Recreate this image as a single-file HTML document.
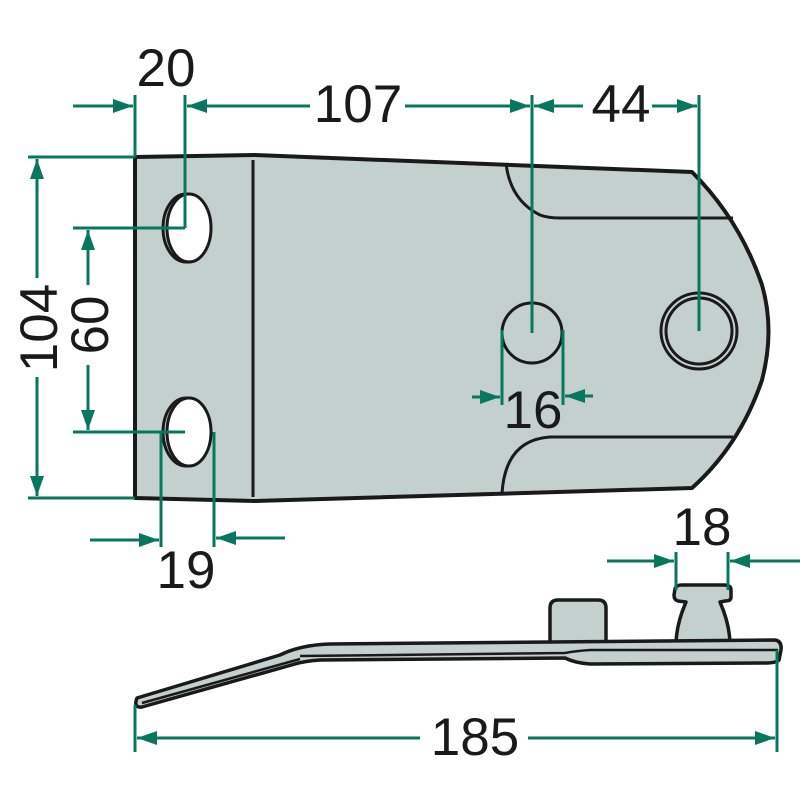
<!DOCTYPE html>
<html><head><meta charset="utf-8"><style>
html,body{margin:0;padding:0;background:#fff;}
svg{display:block;}
text{font-family:"Liberation Sans",sans-serif;font-size:53px;fill:#1a1a1a;}
</style></head><body>
<svg width="800" height="800" viewBox="0 0 800 800" xmlns="http://www.w3.org/2000/svg">
<defs>
<marker id="a" viewBox="-20 -7 20 14" refX="0" refY="0" markerWidth="20" markerHeight="14" markerUnits="userSpaceOnUse" orient="auto">
<path d="M-20,-7 L0,0 L-20,7 Z" fill="#07785f"/>
</marker>
</defs>
<!-- plate -->
<path d="M135,157 L255,155 L692,172 Q740,220 762,285 Q775,330 762,380 Q740,445 692,488 L255,501 L135,498 Z" fill="#c4d0cd" stroke="#1a1a1a" stroke-width="4" stroke-linejoin="round"/>
<line x1="253" y1="160" x2="253" y2="497" stroke="#1a1a1a" stroke-width="3"/>
<path d="M506,163 Q510,200 540,215 Q548,218 560,218 L733,218" fill="none" stroke="#1a1a1a" stroke-width="3"/>
<path d="M733,437 L550,437 Q505,440 502,494" fill="none" stroke="#1a1a1a" stroke-width="3"/>
<!-- holes -->
<ellipse cx="186" cy="228" rx="23" ry="34" fill="none" stroke="#1a1a1a" stroke-width="3"/>
<ellipse cx="189" cy="228" rx="22" ry="34" fill="#fff" stroke="#1a1a1a" stroke-width="3"/>
<ellipse cx="186" cy="432" rx="23" ry="34" fill="none" stroke="#1a1a1a" stroke-width="3"/>
<ellipse cx="189" cy="432" rx="22" ry="34" fill="#fff" stroke="#1a1a1a" stroke-width="3"/>
<circle cx="532" cy="333" r="30" fill="#c4d0cd" stroke="#1a1a1a" stroke-width="3"/>
<circle cx="699" cy="331" r="38" fill="none" stroke="#1a1a1a" stroke-width="3"/>
<circle cx="699" cy="331" r="33" fill="#c4d0cd" stroke="#1a1a1a" stroke-width="3"/>
<!-- side view -->
<path d="M550,646 L550,608 Q550,600 558,600 L598,600 Q606,600 606,608 L606,646 Z" fill="#c4d0cd" stroke="#1a1a1a" stroke-width="3.5"/>
<path d="M676,645 Q676,625 686,602 L678,601 Q674,600 674,595 L675,589 Q676,585 682,585 L724,585 Q731,585 731,590 L731,597 Q731,601 725,601 L720,602 Q730,625 730,645 Z" fill="#c4d0cd" stroke="#1a1a1a" stroke-width="3.5" stroke-linejoin="round"/>
<path d="M137,698 L280,655 Q300,645 330,644 L775,640 Q782,641 781,650 L779,660 Q776,663 765,663 L590,664 Q575,663 565,658 L320,660 Q305,661 295,664 L142,707 Q133,708 137,698 Z" fill="#c4d0cd" stroke="#1a1a1a" stroke-width="3.5" stroke-linejoin="round"/>
<path d="M142,703 L300,659 M300,656 L565,653 Q575,651 590,650 L778,650" fill="none" stroke="#1a1a1a" stroke-width="2.5"/>
<!-- dimension lines -->
<g stroke="#07785f" stroke-width="3" fill="none">
<line x1="135" y1="95" x2="135" y2="157"/>
<line x1="185" y1="95" x2="185" y2="228"/>
<line x1="532" y1="95" x2="532" y2="333"/>
<line x1="699" y1="95" x2="699" y2="331"/>
<line x1="73" y1="106" x2="133" y2="106" marker-end="url(#a)"/>
<line x1="310" y1="106" x2="187" y2="106" marker-end="url(#a)"/>
<line x1="405" y1="106" x2="530" y2="106" marker-end="url(#a)"/>
<line x1="583" y1="106" x2="534" y2="106" marker-end="url(#a)"/>
<line x1="652" y1="106" x2="697" y2="106" marker-end="url(#a)"/>
<line x1="28" y1="157" x2="135" y2="157"/>
<line x1="28" y1="498" x2="135" y2="498"/>
<line x1="37" y1="278" x2="37" y2="159" marker-end="url(#a)"/>
<line x1="37" y1="377" x2="37" y2="496" marker-end="url(#a)"/>
<line x1="73" y1="228" x2="185" y2="228"/>
<line x1="73" y1="432" x2="185" y2="432"/>
<line x1="88" y1="285" x2="88" y2="230" marker-end="url(#a)"/>
<line x1="88" y1="365" x2="88" y2="430" marker-end="url(#a)"/>
<line x1="161" y1="432" x2="161" y2="547"/>
<line x1="214" y1="432" x2="214" y2="547"/>
<line x1="90" y1="540" x2="159" y2="540" marker-end="url(#a)"/>
<line x1="285" y1="538" x2="216" y2="538" marker-end="url(#a)"/>
<line x1="502" y1="330" x2="502" y2="405"/>
<line x1="563" y1="330" x2="563" y2="405"/>
<line x1="472" y1="397" x2="500" y2="397" marker-end="url(#a)"/>
<line x1="593" y1="396" x2="565" y2="396" marker-end="url(#a)"/>
<line x1="676" y1="552" x2="676" y2="590"/>
<line x1="728" y1="552" x2="728" y2="590"/>
<line x1="607" y1="561" x2="674" y2="561" marker-end="url(#a)"/>
<line x1="800" y1="561" x2="730" y2="561" marker-end="url(#a)"/>
<line x1="135" y1="705" x2="135" y2="752"/>
<line x1="777" y1="650" x2="777" y2="752"/>
<line x1="420" y1="738" x2="137" y2="738" marker-end="url(#a)"/>
<line x1="528" y1="738" x2="775" y2="738" marker-end="url(#a)"/>
</g>
<!-- labels -->
<text x="166" y="86" text-anchor="middle">20</text>
<text x="358" y="122" text-anchor="middle">107</text>
<text x="621" y="122" text-anchor="middle">44</text>
<text transform="translate(57,328) rotate(-90)" text-anchor="middle">104</text>
<text transform="translate(108,325) rotate(-90)" text-anchor="middle">60</text>
<text x="186" y="588" text-anchor="middle">19</text>
<text x="533" y="428" text-anchor="middle">16</text>
<text x="702" y="545" text-anchor="middle">18</text>
<text x="475" y="755" text-anchor="middle">185</text>
</svg>
</body></html>
